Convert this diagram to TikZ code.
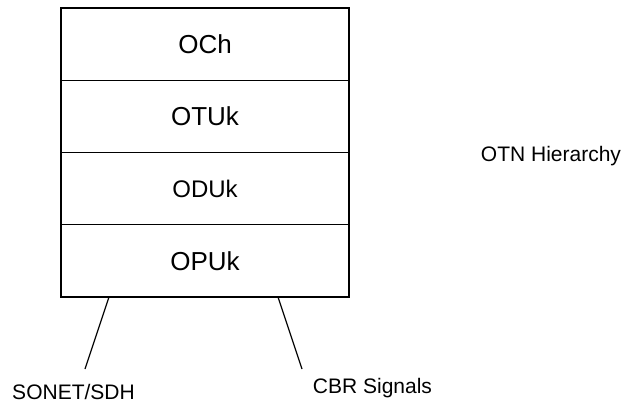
\documentclass[tikz,border=0pt]{standalone}
\usepackage{fontspec}
\setmainfont{Liberation Sans}
\usetikzlibrary{positioning}
\tikzset{layerbox/.style={rectangle, draw, line width=1.2pt, minimum width=288pt, minimum height=72.25pt, outer sep=0pt, inner sep=0pt, font=\fontsize{26}{30}\selectfont}}
\tikzset{sigtext/.style={anchor=base, inner sep=0pt, font=\fontsize{21}{25}\selectfont}}
\tikzset{feedline/.style={line width=1.2pt}}

\begin{document}
\begin{tikzpicture}[x=1pt, y=-1pt]
\useasboundingbox (0,0) rectangle (623,403);
% Layer stack
\node[layerbox] (och) at (205,44.1) {OCh};
\node[layerbox, below=0pt of och] (otuk) {OTUk};
\node[layerbox, below=0pt of otuk, font=\fontsize{24}{28}\selectfont] (oduk) {ODUk};
\node[layerbox, below=0pt of oduk] (opuk) {OPUk};

% Title
\node[sigtext] (title) at (551,162) {OTN Hierarchy};

% Client signals
\node[sigtext] (sonet) at (73.5,399) {SONET/SDH};
\node[sigtext] (cbr) at (372.5,393) {CBR Signals};
\coordinate (sonetend) at (85,369);
\coordinate (cbrend) at (302,369);

% Feed lines
\draw[feedline] (opuk.south west) ++(48,0) -- (sonetend);
\draw[feedline] (opuk.south west) ++(217,0) -- (cbrend);
\end{tikzpicture}
\end{document}
